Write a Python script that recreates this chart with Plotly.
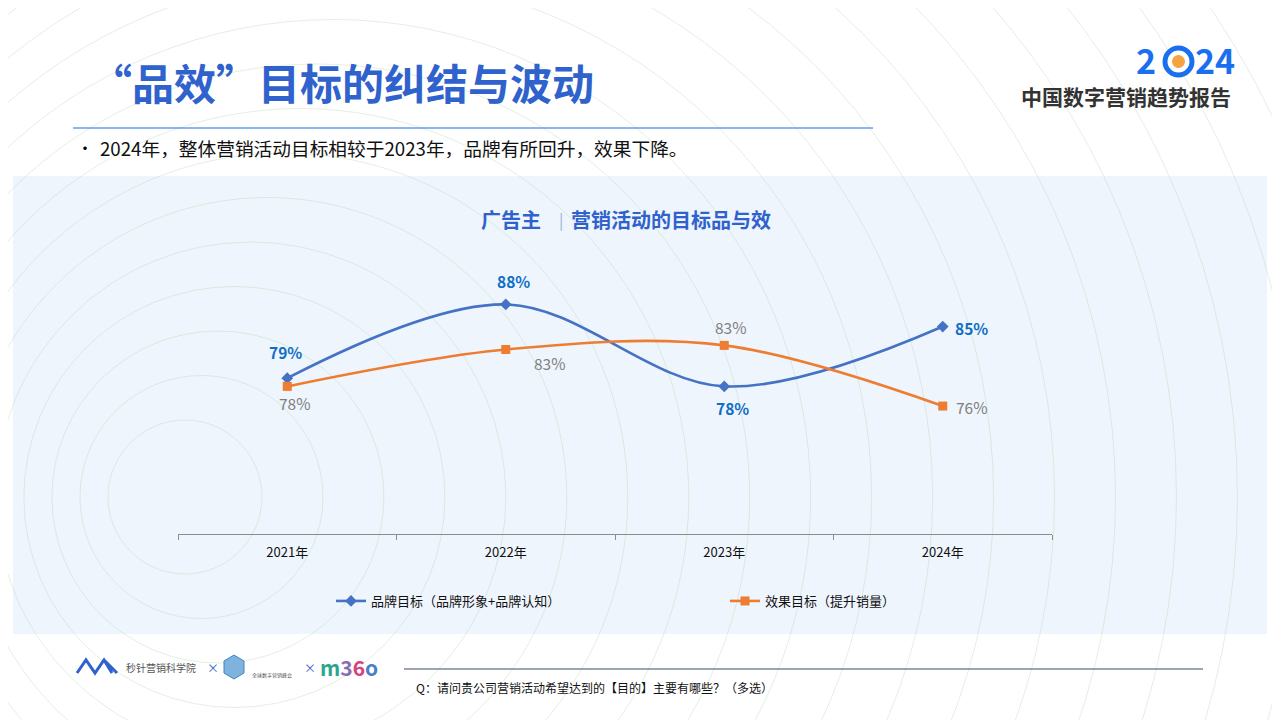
import plotly.graph_objects as go

# ---------------- data ----------------
years = ["2021年", "2022年", "2023年", "2024年"]
brand_values = [79.0, 88.0, 78.0, 85.3]
effect_values = [78.0, 82.5, 83.0, 75.6]
brand_labels = ["79%", "88%", "78%", "85%"]
effect_labels = ["78%", "83%", "83%", "76%"]
brand_name = "品牌目标（品牌形象+品牌认知）"
effect_name = "效果目标（提升销量）"

# page body has an 8px margin; size the figure to fit the window
OFF = 8
W, H = 1272, 712
def px(x):
    return (x - OFF) / W
def py(y):
    return 1 - (y - OFF) / H

BLUE = "#4472c4"
ORANGE = "#ed7d31"
TITLE_BLUE = "#2f62cc"
FONT = "Noto Sans CJK SC"

fig = go.Figure()

fig.add_trace(go.Scatter(
    x=years, y=brand_values, name=brand_name, mode="lines+markers",
    line=dict(color=BLUE, width=2.6, shape="spline", smoothing=1.0),
    marker=dict(symbol="diamond", size=9, color=BLUE),
    hoverinfo="skip"))
fig.add_trace(go.Scatter(
    x=years, y=effect_values, name=effect_name, mode="lines+markers",
    line=dict(color=ORANGE, width=2.6, shape="spline", smoothing=1.0),
    marker=dict(symbol="square", size=9, color=ORANGE),
    hoverinfo="skip"))

shapes = []
# light blue panel
shapes.append(dict(type="rect", xref="paper", yref="paper",
                   x0=px(13), x1=px(1267), y0=py(634), y1=py(176),
                   fillcolor="#eff5fd", line=dict(width=0), layer="below"))
# decorative ripple circles
for k in range(24):
    r = 77 + 44.5 * k
    cx = 185 + 0.37 * (r - 77)
    cy = 497
    shapes.append(dict(type="circle", xref="paper", yref="paper",
                       x0=px(cx - r), x1=px(cx + r), y0=py(cy + r), y1=py(cy - r),
                       line=dict(color="rgba(160,210,150,0.30)", width=1),
                       fillcolor="rgba(0,0,0,0)", layer="below"))
# title underline
shapes.append(dict(type="line", xref="paper", yref="paper",
                   x0=px(73), x1=px(873), y0=py(128), y1=py(128),
                   line=dict(color="#1a6fe8", width=1)))
# footer line
shapes.append(dict(type="line", xref="paper", yref="paper",
                   x0=px(404), x1=px(1203), y0=py(669), y1=py(669),
                   line=dict(color="#3a4a66", width=1)))
# 2024 logo ring
shapes.append(dict(type="circle", xref="paper", yref="paper",
                   x0=px(1165), x1=px(1192), y0=py(75), y1=py(48),
                   line=dict(color="#1a6ff0", width=5), fillcolor="white"))
shapes.append(dict(type="circle", xref="paper", yref="paper",
                   x0=px(1172), x1=px(1185), y0=py(68), y1=py(55),
                   line=dict(width=0), fillcolor="#f4a340"))
# footer logo (M-like zigzag)
shapes.append(dict(type="path", xref="paper", yref="paper",
                   path="M {} {} L {} {} L {} {} L {} {} L {} {} L {} {} L {} {}".format(
                       px(77), py(673), px(86), py(660), px(95), py(673), px(104), py(660),
                       px(112), py(673), px(104), py(660), px(117), py(673)),
                   line=dict(color="#2f62cc", width=3)))
# cube logo
shapes.append(dict(type="path", xref="paper", yref="paper",
                   path="M {} {} L {} {} L {} {} L {} {} L {} {} L {} {} Z".format(
                       px(234), py(655), px(244), py(661), px(244), py(673),
                       px(234), py(679), px(224), py(673), px(224), py(661)),
                   line=dict(color="#3d86c6", width=1), fillcolor="#7fb3de"))

ann = []
def text(x, y, s, size, color="#000", bold=False, xanchor="left", family=FONT):
    ann.append(dict(x=px(x), y=py(y), xref="paper", yref="paper", text=s,
                    showarrow=False, xanchor=xanchor, yanchor="middle",
                    font=dict(size=size, color=color, family=family,
                              weight="bold" if bold else "normal")))

text(88, 82, "“品效”目标的纠结与波动", 42, TITLE_BLUE, True)
text(75, 147, "•", 16, "#000")
text(98, 147, "2024年，整体营销活动目标相较于2023年，品牌有所回升，效果下降。", 18.7, "#111")
text(1146, 60, "2", 34, "#1a6ff0", True, "center")
text(1215, 60, "24", 34, "#1a6ff0", True, "center")
text(1126, 96, "中国数字营销趋势报告", 21, "#333", True, "center")
text(479, 219, "广告主", 20, TITLE_BLUE, True)
text(557, 219, "|", 16, "#9ab0d8")
text(569, 219, "营销活动的目标品与效", 20, TITLE_BLUE, True)
text(124, 667, "秒针营销科学院", 10, "#555")
text(205, 667, "×", 12, "#3a63c8")
text(250, 675, "全球数字营销峰会", 5, "#555")
text(302, 667, "×", 12, "#3a63c8")
text(318, 667, "<span style='color:#2aa58f'>m</span><span style='color:#8a6fb0'>3</span>"
     "<span style='color:#d6427d'>6</span><span style='color:#4a7fc7'>o</span>", 21, "#2aa58f", True)
text(414, 687, "Q：请问贵公司营销活动希望达到的【目的】主要有哪些？（多选）", 12, "#111")

# data labels placed from the series values
brand_shift = [(-2, 26), (8, 23), (8, -22), (29, -1)]
effect_shift = [(7, -17), (44, -13), (6, 18), (29, -1)]
for i, yr in enumerate(years):
    ann.append(dict(x=yr, y=brand_values[i], xref="x", yref="y", text=brand_labels[i],
                    showarrow=False, xshift=brand_shift[i][0], yshift=brand_shift[i][1],
                    font=dict(size=15.5, color="#0f6fc6", family=FONT, weight="bold")))
    ann.append(dict(x=yr, y=effect_values[i], xref="x", yref="y", text=effect_labels[i],
                    showarrow=False, xshift=effect_shift[i][0], yshift=effect_shift[i][1],
                    font=dict(size=15.5, color="#7f7f7f", family=FONT)))

fig.update_layout(
    width=W, height=H, margin=dict(l=0, r=0, t=0, b=0),
    paper_bgcolor="white", plot_bgcolor="rgba(0,0,0,0)",
    font=dict(family=FONT, color="#000"),
    shapes=shapes, annotations=ann,
    hovermode=False,
    xaxis=dict(domain=[px(178), px(1052)], type="category", range=[-0.5, 3.5],
               showgrid=False, zeroline=False, showline=True, linecolor="#8c8c8c", linewidth=1,
               ticks="outside", tickson="boundaries", ticklen=5, tickcolor="#8c8c8c",
               tickfont=dict(size=13, color="#111", family=FONT), ticklabelstandoff=6,
               fixedrange=True),
    yaxis=dict(domain=[py(534), py(206)], range=[60, 100], visible=False, fixedrange=True),
    showlegend=True,
    legend=dict(orientation="h", x=px(331), y=py(601), xanchor="left", yanchor="middle",
                bgcolor="rgba(0,0,0,0)", font=dict(size=13, color="#111", family=FONT),
                entrywidth=349, entrywidthmode="pixels", traceorder="normal"),
)

fig.write_html("out.html")
